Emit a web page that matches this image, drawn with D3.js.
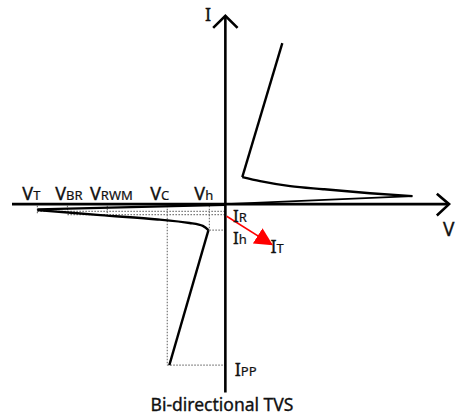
<!DOCTYPE html>
<html>
<head>
<meta charset="utf-8">
<script src="https://cdn.jsdelivr.net/npm/d3@7"></script>
<style>
  body { margin: 0; background: #fff; }
  text { font-family: "Noto Sans", "Open Sans", sans-serif; fill: #111; stroke: #111; stroke-width: 0.35; }
</style>
</head>
<body>
<script>
// ---------- I-V curve of a bi-directional TVS (arbitrary units) ----------

let w = 458
let h = 416

// positive quadrant: leak line out to the tip, then snap back and rise
let posLeak = [[0, 0], [9.95, 0.5]]
let posSnap = [[9.95, 0.5], [7.7, 0.68], [5.2, 0.93], [3.45, 1.12], [1.85, 1.43], [0.9, 1.68]]
let posRise = [[0.9, 1.68], [3.03, 10]]

// negative quadrant (mirror-ish)
let negLeak = [[0, -0.05], [-10, -0.33]]
let negSnap = [[-10, -0.37], [-6.65, -0.68], [-3.6, -0.95], [-1.9, -1.17], [-1.2, -1.35], [-0.9, -1.61]]
let negRise = [[-0.9, -1.61], [-2.98, -10]]

// voltage marks on the negative side
let vNames = ["T", "BR", "RWM", "C", "h"]
let vValues = [-10, -8.4, -6.28, -3.09, -0.85]
let vLabelX = [-10.8, -9.05, -7.2, -4.0, -1.65]

// current levels
let iR = [-0.45, -0.65]
let iH = -1.61
let iPP = -10

let x = d3.scaleLinear().domain([-11.35, 11.95]).range([12, 450])
let y = d3.scaleLinear().domain([-11.7, 11.75]).range([392.5, 15])

let svg = d3.select("body")
              .append("svg")
              .attr("width", w)
              .attr("height", h)

let line = d3.line().x(d => x(d[0])).y(d => y(d[1]))
let curve = d3.line().x(d => x(d[0])).y(d => y(d[1])).curve(d3.curveMonotoneX)
let smooth = d3.line().x(d => x(d[0])).y(d => y(d[1])).curve(d3.curveCatmullRom)

// dotted guides
let dots = svg.append("g")
    .attr("stroke", "#777")
    .attr("stroke-width", 1.2)
    .attr("stroke-dasharray", "1.5,1.5")
    .attr("fill", "none")

dots.append("path").attr("d", line([[vValues[0], iR[0]], [0, iR[0]]]))
dots.append("path").attr("d", line([[vValues[1], iR[1]], [0, iR[1]]]))
dots.append("path").attr("d", line([[vValues[4], iH], [0, iH]]))
dots.append("path").attr("d", line([[vValues[3], iPP], [0, iPP]]))
dots.append("path").attr("d", line([[vValues[0], -0.1], [vValues[0], -0.65]]))
dots.append("path").attr("d", line([[vValues[1], -0.1], [vValues[1], -0.55]]))
dots.append("path").attr("d", line([[vValues[2], -0.1], [vValues[2], -0.55]]))
dots.append("path").attr("d", line([[vValues[3], -0.1], [vValues[3], iPP]]))
dots.append("path").attr("d", line([[vValues[4], -0.1], [vValues[4], iH]]))

// axes
let axes = svg.append("g")
    .attr("stroke", "#000")
    .attr("stroke-width", 2.6)
    .attr("fill", "none")

axes.append("path").attr("d", line([[-11.35, 0], [11.9, 0]]))
axes.append("path").attr("d", line([[0, -11.7], [0, 11.7]]))
// arrow heads
axes.append("path").attr("d", line([[11.25, 0.65], [11.9, 0], [11.25, -0.7]]))
axes.append("path").attr("d", line([[-0.65, 10.95], [0, 11.7], [0.65, 10.95]]))

// I-V curve
let iv = svg.append("g")
    .attr("stroke", "#000")
    .attr("stroke-width", 2.4)
    .attr("fill", "none")
    .attr("stroke-linejoin", "round")

iv.append("path").attr("d", line(posLeak)).attr("stroke-width", 1.6)
iv.append("path").attr("d", curve(posSnap.slice().reverse()))
iv.append("path").attr("d", line(posRise))
iv.append("path").attr("d", line(negLeak)).attr("stroke-width", 2.2)
iv.append("path").attr("d", smooth(negSnap))
iv.append("path").attr("d", line(negRise))

// red arrow IR -> IT
svg.append("defs").append("marker")
    .attr("id", "tri")
    .attr("viewBox", "0 0 10 10")
    .attr("refX", 9).attr("refY", 5)
    .attr("markerWidth", 18).attr("markerHeight", 18)
    .attr("markerUnits", "userSpaceOnUse")
    .attr("orient", "auto")
  .append("path")
    .attr("d", "M0,0 L10,5 L0,10 Z")
    .attr("fill", "#f00")

svg.append("line")
    .attr("x1", x(0.07)).attr("y1", y(-0.75))
    .attr("x2", x(2.45)).attr("y2", y(-2.5))
    .attr("stroke", "#f00")
    .attr("stroke-width", 1.6)
    .attr("marker-end", "url(#tri)")

// labels
function label(px, py, big, small, size) {
  let t = svg.append("text").attr("x", px).attr("y", py).attr("font-size", (size || 18) + "px")
  t.append("tspan").text(big)
  if (small) t.append("tspan").attr("font-size", "13px").attr("stroke-width", 0.2).text(small)
}

vNames.forEach((n, i) => label(x(vLabelX[i]), 200, "V", n))

label(x(0.4), y(-1.1), "I", "R", 17)
label(x(0.4), y(-2.47), "I", "h", 17)
label(x(2.4), y(-3.05), "I", "T")
label(x(0.5), y(-10.7), "I", "PP")

svg.append("text").attr("x", 205).attr("y", 21).attr("font-size", "18px").text("I")
svg.append("text").attr("x", 443).attr("y", 236).attr("font-size", "19px").text("V")

svg.append("text")
    .attr("x", 222).attr("y", 411)
    .attr("text-anchor", "middle")
    .attr("font-size", "17.5px")
    .attr("stroke-width", 0.5)
    .text("Bi-directional TVS")
</script>
</body>
</html>
